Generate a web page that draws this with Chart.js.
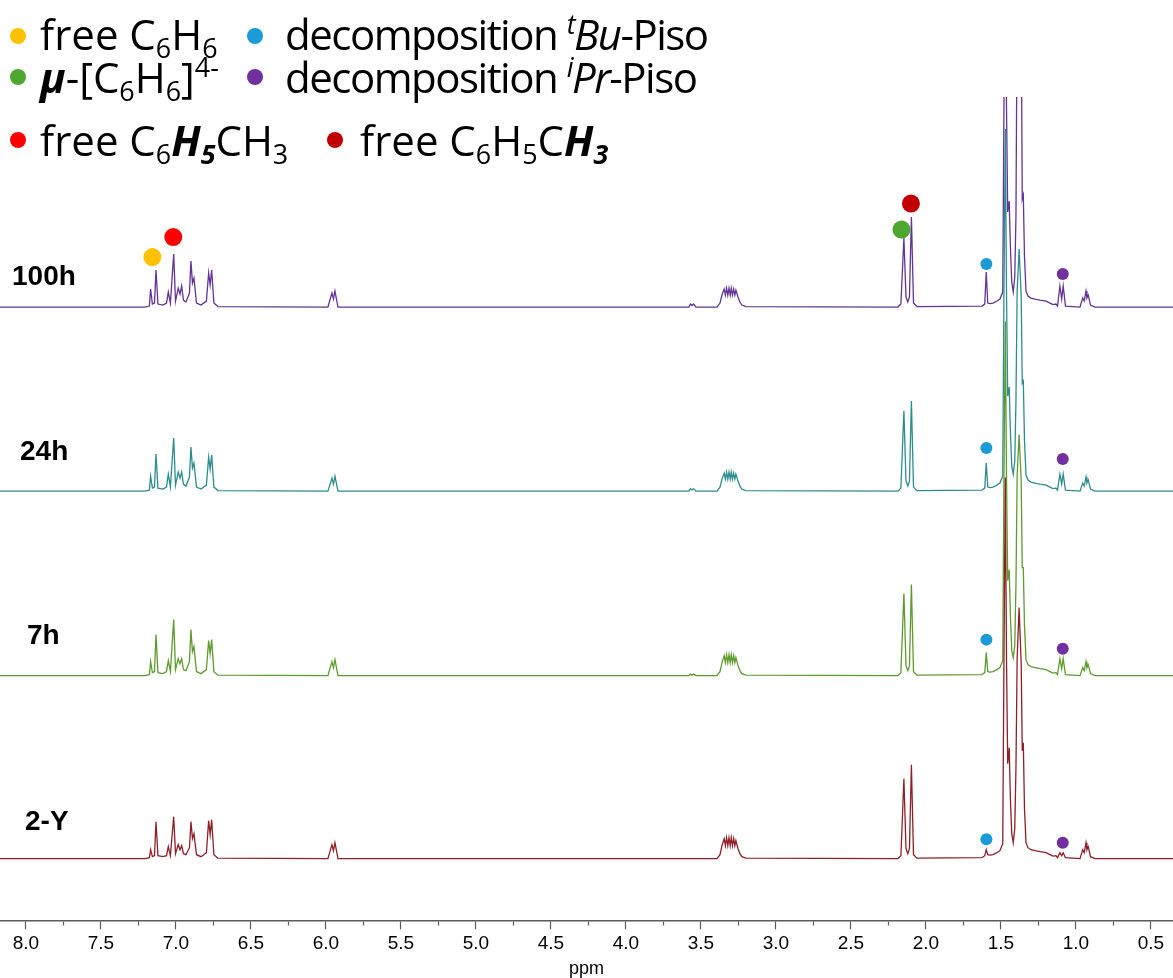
<!DOCTYPE html>
<html>
<head>
<meta charset="utf-8">
<script src="https://cdn.jsdelivr.net/npm/chart.js@4.4.1/dist/chart.umd.min.js"></script>
<style>
  html, body { margin: 0; padding: 0; background: #fff; }
  #wrap { position: relative; width: 1173px; height: 978px; overflow: hidden; }
  #nmr { position: absolute; left: 0; top: 0; }
  .key { position: absolute; font-family: 'Open Sans', 'Noto Sans', sans-serif; font-size: 42px; line-height: 1; color: #000; white-space: nowrap; }
  .key.tight { letter-spacing: -1.5px; }
  .key sub { font-size: 0.64em; vertical-align: -0.3em; line-height: 0; }
  .key sup { font-size: 0.64em; vertical-align: 0.58em; line-height: 0; }
  .dot { position: absolute; width: 16px; height: 16px; border-radius: 50%; }
  .tag { position: absolute; font-family: 'Liberation Sans', Arial, sans-serif; font-weight: bold; font-size: 28px; line-height: 1; color: #000; }
</style>
</head>
<body>
<div id="wrap">
  <canvas id="nmr" width="1173" height="978"></canvas>

  <span class="dot" style="left:10px;top:28px;background:#ffc000"></span>
  <span class="key" style="left:40px;top:13px">free C<sub>6</sub>H<sub>6</sub></span>
  <span class="dot" style="left:247px;top:28px;background:#1a9ad6"></span>
  <span class="key tight" style="left:285px;top:13px">decomposition <sup><i>t</i></sup><i>Bu</i>-Piso</span>

  <span class="dot" style="left:10px;top:69px;background:#4ea72e"></span>
  <span class="key" style="left:40px;top:56px"><b><i>μ</i></b>-[C<sub>6</sub>H<sub>6</sub>]<sup>4-</sup></span>
  <span class="dot" style="left:247px;top:69px;background:#7030a0"></span>
  <span class="key tight" style="left:285px;top:56px">decomposition <sup><i>i</i></sup><i>Pr</i>-Piso</span>

  <span class="dot" style="left:10px;top:132px;background:#ff0000"></span>
  <span class="key" style="left:40px;top:119px">free C<sub>6</sub><b><i>H<sub>5</sub></i></b>CH<sub>3</sub></span>
  <span class="dot" style="left:327px;top:132px;background:#c00000"></span>
  <span class="key" style="left:360px;top:119px">free C<sub>6</sub>H<sub>5</sub>C<b><i>H<sub>3</sub></i></b></span>

  <span class="tag" style="left:12px;top:262px">100h</span>
  <span class="tag" style="left:20px;top:437px">24h</span>
  <span class="tag" style="left:27px;top:621px">7h</span>
  <span class="tag" style="left:25px;top:807px">2-Y</span>
</div>

<script>
// Chemical shift grid (ppm) shared by all four 1H spectra
const ppm = [
  8.173, 7.207, 7.177, 7.169, 7.157, 7.143, 7.133, 7.120, 7.087, 7.063,
  7.051, 7.037, 7.015, 7.003, 6.985, 6.973, 6.962, 6.950, 6.933, 6.910,
  6.900, 6.890, 6.880, 6.863, 6.833, 6.797, 6.782, 6.772, 6.762, 6.747,
  6.720, 5.987, 5.960, 5.950, 5.940, 5.920, 3.580, 3.570, 3.560, 3.550,
  3.533, 3.393, 3.373, 3.360, 3.345, 3.337, 3.329, 3.321, 3.313, 3.305,
  3.298, 3.290, 3.282, 3.274, 3.267, 3.253, 3.240, 3.227, 3.200, 2.187,
  2.167, 2.147, 2.133, 2.121, 2.110, 2.097, 2.083, 2.060, 1.627, 1.608,
  1.598, 1.588, 1.573, 1.553, 1.527, 1.507, 1.488, 1.480, 1.471, 1.463,
  1.455, 1.445, 1.437, 1.428, 1.418, 1.408, 1.400, 1.392, 1.379, 1.365,
  1.358, 1.351, 1.343, 1.333, 1.320, 1.300, 1.273, 1.240, 1.200, 1.173,
  1.153, 1.133, 1.123, 1.107, 1.095, 1.085, 1.070, 0.973, 0.955, 0.945,
  0.933, 0.927, 0.918, 0.903, 0.873, 0.353
];

// Intensities (arbitrary units) for each time point
const int100h = [
  0, 0, 1, 18, 3, 4, 37, 3, 2, 4,
  15, 4, 53, 6, 19, 13, 21, 7, 5, 14,
  46, 24, 29, 4, 2, 6, 34, 22, 37, 4,
  0.5, 0, 14, 8, 16, 0, 0, 3, 1.5, 3,
  0, 0, 4, 12, 18, 12, 19, 12, 19, 12,
  19, 12, 18, 12, 17, 10, 5, 2, 0.5, 0,
  3, 69, 10, 5, 10, 90, 4, 0.5, 1, 3,
  35, 4, 3.5, 4, 6, 8, 15, 200, 370, 200,
  95, 106, 60, 25, 15, 30, 90, 300, 300, 300,
  108, 112, 50, 16, 11, 9, 8, 7, 6, 4,
  2.5, 3, 1, 21, 8, 21, 1, 0, 9, 6,
  16, 9, 12, 2, 0, 0
];
const int24h = [
  0, 0, 1, 15, 3, 4, 37, 3, 2, 4,
  17, 4, 53, 6, 19, 13, 19, 7, 5, 14,
  44, 23, 28, 4, 2, 6, 34, 22, 36, 4,
  0.5, 0, 13, 7, 15, 0, 0, 2.5, 1, 2.5,
  0, 0, 4, 12, 18, 12, 19, 12, 19, 12,
  19, 12, 18, 12, 17, 10, 5, 2, 0.5, 0,
  3, 80, 10, 5, 10, 90, 4, 0.5, 1, 3,
  28, 4, 3.5, 4, 6, 8, 15, 200, 362, 200,
  95, 104, 60, 25, 17, 30, 90, 200, 242, 195,
  108, 110, 50, 16, 11, 9, 8, 7, 6, 4,
  2.5, 3, 1, 17, 7, 17, 1, 0, 8, 5,
  14, 8, 11, 2, 0, 0
];
const int7h = [
  0, 0, 1, 14, 3, 4, 41, 3, 2, 4,
  15, 4, 56, 6, 17, 12, 17, 6, 5, 14,
  46, 24, 29, 4, 2, 6, 35, 22, 36, 4,
  0.5, 0, 14, 8, 16, 0, 0, 1.5, 0.5, 1.5,
  0, 0, 4, 13, 20, 13, 21, 13, 21, 13,
  21, 13, 20, 13, 18, 10, 5, 2, 0.5, 0,
  3, 82, 10, 5, 10, 91, 4, 0.5, 1, 3,
  23, 4, 3.5, 4, 6, 8, 15, 200, 354, 200,
  95, 106, 60, 25, 18, 30, 90, 200, 241, 195,
  108, 108, 50, 16, 11, 9, 8, 7, 6, 4,
  2.5, 3, 1, 17, 7, 17, 1, 0, 8, 5,
  14, 8, 11, 2, 0, 0
];
const int2Y = [
  0, 0, 1, 9, 2, 3, 37, 3, 2, 3,
  12, 3, 42, 5, 14, 9, 13, 5, 4, 11,
  37, 20, 25, 4, 2, 6, 38, 24, 39, 4,
  0.5, 0, 14, 8, 16, 0, 0, 0, 0, 0,
  0, 0, 4, 13, 20, 13, 21, 13, 21, 13,
  21, 13, 20, 13, 18, 10, 5, 2, 0.5, 0,
  3, 80, 10, 5, 10, 94, 4, 0.5, 1, 3,
  9, 4, 3.5, 4, 6, 8, 15, 200, 381, 200,
  95, 111, 60, 25, 16, 30, 90, 200, 251, 195,
  108, 116, 50, 16, 11, 9, 8, 7, 6, 4,
  2.5, 3, 1, 6, 3, 6, 1, 0, 9, 6,
  16, 9, 12, 2, 0, 0
];

// Stacking: bottom to top
const spectrumNames = ['2-Y', '7h', '24h', '100h'];
const spectrumData = [int2Y, int7h, int24h, int100h];
const spectrumOffsets = [62.5, 245.5, 430, 614];
const spectrumColors = ['#8e1f27', '#5e9b2e', '#2c8d8f', '#623497'];

// Assignment markers on the 100h trace
const assignNames = ['free C6H6', 'free C6H5CH3 (ring)', 'μ-[C6H6]4-', 'free C6H5CH3 (methyl)'];
const assignPpm = [7.157, 7.018, 2.163, 2.100];
const assignLift = [50, 70, 77.5, 103.5];
const assignColors = ['#ffc000', '#ff0000', '#4ea72e', '#c00000'];

// Decomposition markers on every trace (order: 2-Y, 7h, 24h, 100h)
const tBuPpm = 1.597;
const tBuLift = [19.5, 36, 43, 43];
const iPrPpm = 1.088;
const iPrLift = [16, 27, 32, 33];

const datasets = [];

// Marker layer first so it is drawn on top
const markerPts = [];
const markerCol = [];
const markerRad = [];
assignPpm.forEach((p, i) => {
  markerPts.push({ x: p, y: spectrumOffsets[3] + assignLift[i] });
  markerCol.push(assignColors[i]);
  markerRad.push(9);
});
spectrumOffsets.forEach((off, i) => {
  markerPts.push({ x: tBuPpm, y: off + tBuLift[i] });
  markerCol.push('#1a9ad6');
  markerRad.push(6);
  markerPts.push({ x: iPrPpm, y: off + iPrLift[i] });
  markerCol.push('#7030a0');
  markerRad.push(6);
});
datasets.push({
  type: 'scatter',
  label: 'assignments',
  data: markerPts,
  pointRadius: markerRad,
  pointBackgroundColor: markerCol,
  pointBorderWidth: 0,
  showLine: false,
  clip: false
});

// Lower traces drawn above higher ones
spectrumNames.forEach((name, s) => {
  datasets.push({
    type: 'line',
    label: name,
    data: ppm.map((p, i) => ({ x: p, y: spectrumOffsets[s] + spectrumData[s][i] })),
    borderColor: spectrumColors[s],
    borderWidth: 1.3,
    pointRadius: 0,
    fill: false,
    tension: 0
  });
});

const isMajor = v => Math.abs(v * 2 - Math.round(v * 2)) < 1e-6;

new Chart(document.getElementById('nmr'), {
  data: { datasets },
  options: {
    responsive: false,
    animation: false,
    events: [],
    layout: { autoPadding: false, padding: { top: 97, bottom: 0, left: 0, right: 0 } },
    plugins: { legend: { display: false }, tooltip: { enabled: false } },
    scales: {
      x: {
        type: 'linear',
        reverse: true,
        min: 0.353,
        max: 8.173,
        border: { display: true, color: '#5a5a5a', width: 1.5 },
        grid: {
          drawOnChartArea: false,
          drawTicks: true,
          tickLength: 8,
          tickColor: '#5a5a5a',
          tickWidth: 1.2,
          tickBorderDash: ctx => (ctx.tick && isMajor(ctx.tick.value)) ? [] : [4, 40]
        },
        ticks: {
          stepSize: 0.25,
          includeBounds: false,
          autoSkip: false,
          maxRotation: 0,
          minRotation: 0,
          padding: 3,
          color: '#000',
          font: { family: "'Liberation Sans', Arial, sans-serif", size: 19 },
          callback: v => isMajor(v) ? v.toFixed(1) : ''
        },
        title: {
          display: true,
          text: 'ppm',
          color: '#000',
          font: { family: "'Liberation Sans', Arial, sans-serif", size: 18, lineHeight: 1 },
          padding: { top: 2, bottom: 0 }
        }
      },
      y: { display: false, min: 0, max: 824 }
    }
  }
});
</script>
</body>
</html>
